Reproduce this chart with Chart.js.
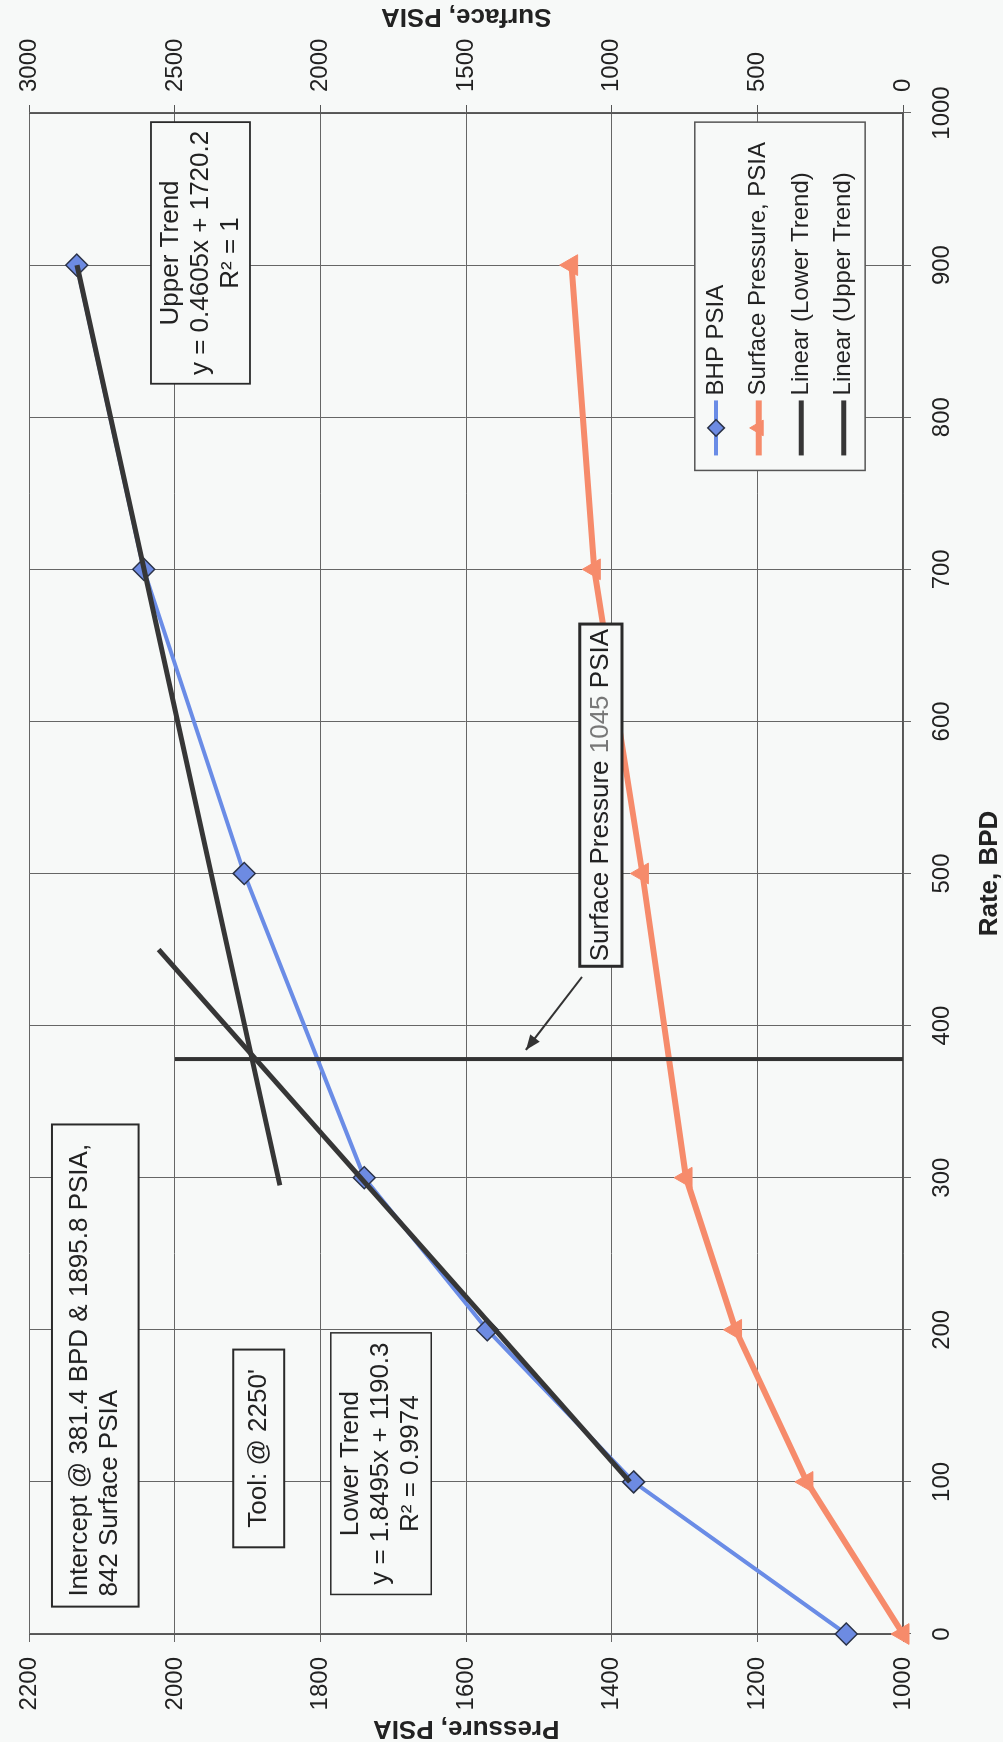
<!DOCTYPE html>
<html><head><meta charset="utf-8">
<script src="https://cdn.jsdelivr.net/npm/chart.js@4.4.1/dist/chart.umd.min.js"></script>
<style>
html,body{margin:0;padding:0;background:#f7f9f8;overflow:hidden;width:1003px;height:1742px;}
#wrap{position:absolute;left:0;top:0;width:1742px;height:1003px;transform-origin:0 0;transform:translate(0px,1742px) rotate(-90deg);}
canvas{display:block;}
</style></head><body>
<div id="wrap"><canvas id="c" width="1742" height="1003" style="width:1742px;height:1003px"></canvas></div>
<script>
// ---- data ----
const rateBPD = [0, 100, 200, 300, 500, 700, 900];
const bhpPSIA = [1078, 1370, 1571, 1740, 1905, 2043, 2135];
const surfacePSIA = [0, 330, 575, 745, 895, 1060, 1138];
const lowerTrendRate = [100, 450];
const lowerTrendPSIA = [1375.3, 2022.6];
const upperTrendRate = [295, 900];
const upperTrendPSIA = [1856.0, 2134.7];
const interceptRate = [378, 378];
const interceptPSIA = [1000, 2000];
const seriesNames = ['BHP PSIA', 'Surface Pressure, PSIA', 'Linear (Lower Trend)', 'Linear (Upper Trend)'];
const rateTickValues = [0, 100, 200, 300, 400, 500, 600, 700, 800, 900, 1000];
const pressureTickValues = [1000, 1200, 1400, 1600, 1800, 2000, 2200];
const surfaceTickValues = [0, 500, 1000, 1500, 2000, 2500, 3000];
const axisTitles = {rate: 'Rate, BPD', pressure: 'Pressure, PSIA', surface: 'Surface, PSIA'};

// ---- styling / layout ----
const FONT = "'Liberation Sans', Arial, Helvetica, sans-serif";
const BG = '#f7f9f8';
const INK = '#222';
const BLUE = '#6a8ce6';
const ORANGE = '#f68b6b';
const TREND = '#363636';

// annotation boxes, placed in data units (rate, pressure)
const notes = [
  {rate: [822, 994], psi: [2033, 1897], lines: ['Upper Trend', 'y = 0.4605x + 1720.2', 'R\u00B2 = 1'], align: 'center', bw: 1.8},
  {rate: [18, 335], psi: [2169, 2050], lines: ['Intercept @ 381.4 BPD & 1895.8 PSIA,', '842 Surface PSIA'], align: 'left', bw: 2},
  {rate: [57, 187], psi: [1920, 1850], lines: ["Tool: @ 2250'"], align: 'center', bw: 2},
  {rate: [26, 198], psi: [1786, 1648], lines: ['Lower Trend', 'y = 1.8495x + 1190.3', 'R\u00B2 = 0.9974'], align: 'center', bw: 1.5},
  {rate: [439, 664], psi: [1444, 1386], lines: [['Surface Pressure ', '1045', ' PSIA']], align: 'center', bw: 3}
];
const arrowFrom = {rate: 432, psi: 1441};
const arrowTo = {rate: 384, psi: 1518};
const legendBox = {rate: [765, 994], psi: [1286, 1052]};

const pts = (xs, ys) => xs.map((v, i) => ({x: v, y: ys[i]}));
const tickSetter = (vals) => (s) => { s.ticks = vals.map(v => ({value: v})); };

const notesPlugin = {
  id: 'notes',
  afterDatasetsDraw(chart) {
    const {ctx, scales: {x, y}} = chart;
    const px = r => x.getPixelForValue(r);
    const py = p => y.getPixelForValue(p);
    ctx.save();
    // arrow
    const ax0 = px(arrowFrom.rate), ay0 = py(arrowFrom.psi);
    const ax1 = px(arrowTo.rate), ay1 = py(arrowTo.psi);
    ctx.strokeStyle = '#333'; ctx.fillStyle = '#333'; ctx.lineWidth = 2;
    ctx.beginPath(); ctx.moveTo(ax0, ay0); ctx.lineTo(ax1, ay1); ctx.stroke();
    const ang = Math.atan2(ay1 - ay0, ax1 - ax0);
    ctx.beginPath();
    ctx.moveTo(ax1, ay1);
    ctx.lineTo(ax1 - 15 * Math.cos(ang) + 6 * Math.sin(ang), ay1 - 15 * Math.sin(ang) - 6 * Math.cos(ang));
    ctx.lineTo(ax1 - 15 * Math.cos(ang) - 6 * Math.sin(ang), ay1 - 15 * Math.sin(ang) + 6 * Math.cos(ang));
    ctx.closePath(); ctx.fill();

    // note boxes
    ctx.font = '26px ' + FONT;
    ctx.textBaseline = 'middle';
    for (const n of notes) {
      const x0 = px(n.rate[0]), x1 = px(n.rate[1]);
      const y0 = py(n.psi[0]), y1 = py(n.psi[1]);
      ctx.fillStyle = BG;
      ctx.fillRect(x0, y0, x1 - x0, y1 - y0);
      ctx.lineWidth = n.bw; ctx.strokeStyle = '#2a2a2a';
      ctx.strokeRect(x0, y0, x1 - x0, y1 - y0);
      const lh = 30;
      const cy = (y0 + y1) / 2;
      n.lines.forEach((ln, i) => {
        const ty = cy + (i - (n.lines.length - 1) / 2) * lh;
        if (Array.isArray(ln)) {
          const ws = ln.map(s => ctx.measureText(s).width);
          let tx = (x0 + x1) / 2 - ws.reduce((a, b) => a + b, 0) / 2;
          ctx.textAlign = 'left';
          ln.forEach((s, k) => {
            ctx.fillStyle = k === 1 ? '#777' : INK;
            ctx.fillText(s, tx, ty);
            tx += ws[k];
          });
        } else {
          ctx.fillStyle = INK;
          if (n.align === 'left') { ctx.textAlign = 'left'; ctx.fillText(ln, x0 + 10, ty); }
          else { ctx.textAlign = 'center'; ctx.fillText(ln, (x0 + x1) / 2, ty); }
        }
      });
    }

    // legend
    const lx0 = px(legendBox.rate[0]), lx1 = px(legendBox.rate[1]);
    const ly0 = py(legendBox.psi[0]), ly1 = py(legendBox.psi[1]);
    ctx.fillStyle = BG; ctx.fillRect(lx0, ly0, lx1 - lx0, ly1 - ly0);
    ctx.lineWidth = 1.5; ctx.strokeStyle = '#555';
    ctx.strokeRect(lx0, ly0, lx1 - lx0, ly1 - ly0);
    const rowH = (ly1 - ly0) / 4;
    ctx.font = '24px ' + FONT;
    ctx.textAlign = 'left'; ctx.textBaseline = 'middle';
    for (let i = 0; i < 4; i++) {
      const ds = chart.data.datasets[i];
      const cy = ly0 + rowH * (i + 0.5);
      const sx0 = lx0 + 15, sx1 = lx0 + 70;
      ctx.strokeStyle = ds.borderColor; ctx.lineWidth = ds.borderWidth;
      ctx.beginPath(); ctx.moveTo(sx0, cy); ctx.lineTo(sx1, cy); ctx.stroke();
      if (ds.pointRadius > 0) {
        ctx.fillStyle = ds.pointBackgroundColor; ctx.strokeStyle = ds.pointBorderColor;
        ctx.lineWidth = ds.pointBorderWidth;
        ctx.beginPath();
        const cx = (sx0 + sx1) / 2, r = ds.pointRadius * 0.75;
        if (ds.pointStyle === 'rectRot') {
          ctx.moveTo(cx, cy - r); ctx.lineTo(cx + r, cy); ctx.lineTo(cx, cy + r); ctx.lineTo(cx - r, cy);
        } else {
          ctx.moveTo(cx, cy - r); ctx.lineTo(cx + r * 0.87, cy + r * 0.5); ctx.lineTo(cx - r * 0.87, cy + r * 0.5);
        }
        ctx.closePath(); ctx.fill(); ctx.stroke();
      }
      ctx.fillStyle = INK;
      ctx.fillText(ds.label, sx1 + 5, cy);
    }
    ctx.restore();
  },
  afterDraw(chart) {
    const s = chart.scales.y2;
    const {ctx} = chart;
    ctx.save();
    ctx.translate(s.right - 16, (s.top + s.bottom) / 2);
    ctx.rotate(-Math.PI / 2);
    ctx.font = 'bold 26px ' + FONT;
    ctx.fillStyle = INK; ctx.textAlign = 'center'; ctx.textBaseline = 'middle';
    ctx.fillText(axisTitles.surface, 0, 0);
    ctx.restore();
  }
};

const tickFont = {family: FONT, size: 24};
const titleFont = {family: FONT, size: 26, weight: 'bold', lineHeight: 1};

new Chart(document.getElementById('c'), {
  type: 'line',
  data: {
    datasets: [
      {label: seriesNames[0], data: pts(rateBPD, bhpPSIA), yAxisID: 'y', borderColor: BLUE, borderWidth: 4,
        pointStyle: 'rectRot', pointRadius: 11, pointHoverRadius: 11, pointBackgroundColor: '#6d8be2',
        pointBorderColor: '#2b3348', pointBorderWidth: 1.5, clip: false, order: 2, tension: 0},
      {label: seriesNames[1], data: pts(rateBPD, surfacePSIA), yAxisID: 'y2', borderColor: ORANGE, borderWidth: 6,
        pointStyle: 'triangle', pointRadius: 12, pointHoverRadius: 12, pointBackgroundColor: ORANGE,
        pointBorderColor: ORANGE, pointBorderWidth: 1, clip: false, order: 3, tension: 0},
      {label: seriesNames[2], data: pts(lowerTrendRate, lowerTrendPSIA), yAxisID: 'y', borderColor: TREND,
        borderWidth: 5, pointRadius: 0, clip: false, order: 1},
      {label: seriesNames[3], data: pts(upperTrendRate, upperTrendPSIA), yAxisID: 'y', borderColor: TREND,
        borderWidth: 5, pointRadius: 0, clip: false, order: 1},
      {label: 'Intercept', data: pts(interceptRate, interceptPSIA), yAxisID: 'y', borderColor: '#333',
        borderWidth: 4, pointRadius: 0, clip: false, order: 1}
    ]
  },
  options: {
    responsive: false, animation: false, devicePixelRatio: 1,
    layout: {padding: {top: 21, left: 0, right: 0, bottom: 0}},
    plugins: {legend: {display: false}, tooltip: {enabled: false}},
    events: [],
    scales: {
      x: {
        type: 'linear', position: 'bottom', min: 0, max: 1000,
        afterBuildTicks: tickSetter(rateTickValues),
        afterFit: s => { s.height = 100; },
        ticks: {callback: v => String(v), font: tickFont, color: INK, padding: 17, maxRotation: 0, minRotation: 0, autoSkip: false},
        grid: {color: '#666', lineWidth: 1, tickLength: 8},
        border: {color: '#555', width: 1.5},
        title: {display: true, text: axisTitles.rate, font: titleFont, color: INK, padding: {top: 0, bottom: 0}}
      },
      y: {
        type: 'linear', position: 'left', min: 1000, max: 2200,
        afterBuildTicks: tickSetter(pressureTickValues),
        afterFit: s => { s.width = 108; },
        ticks: {callback: v => String(v), font: tickFont, color: INK, padding: 15, autoSkip: false},
        grid: {color: '#666', lineWidth: 1, tickLength: 8},
        border: {color: '#555', width: 1.5},
        title: {display: true, text: axisTitles.pressure, font: titleFont, color: INK, padding: {top: 1, bottom: 0}}
      },
      y2: {
        type: 'linear', position: 'right', min: 0, max: 3000,
        afterBuildTicks: tickSetter(surfaceTickValues),
        afterFit: s => { s.width = 113; },
        ticks: {callback: v => String(v), font: tickFont, color: INK, padding: 13, autoSkip: false},
        grid: {drawOnChartArea: false, color: '#555', lineWidth: 1, tickLength: 8},
        border: {color: '#555', width: 1.5},
        title: {display: false}
      }
    }
  },
  plugins: [notesPlugin]
});
</script>
</body></html>
